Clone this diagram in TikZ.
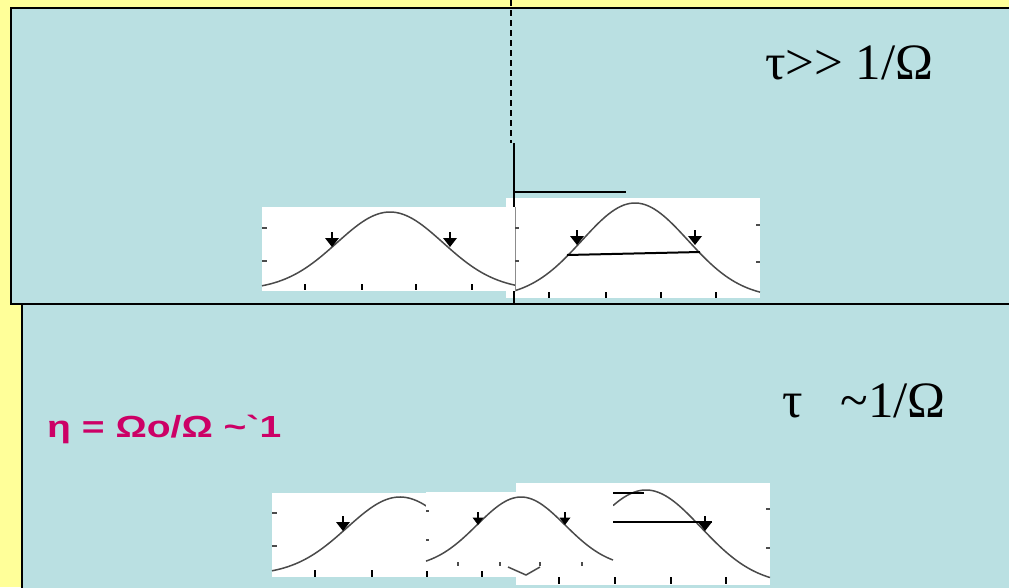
\documentclass[tikz,border=0pt]{standalone}
\usepackage{fontspec}
\usepackage{graphicx}
\newfontfamily\serifx{Liberation Serif}
\newfontfamily\magfont{Liberation Sans}
\definecolor{bgyellow}{HTML}{FFFF99}
\definecolor{panel}{HTML}{BAE0E2}
\definecolor{magtext}{HTML}{CC0066}
\definecolor{curvegray}{HTML}{4A4A4A}
\tikzset{
  panelfill/.style={fill=panel, draw=none},
  border/.style={draw=black, line width=2.5pt},
  plotbg/.style={fill=white, draw=none},
  curve/.style={draw=curvegray, line width=1.5pt},
  tickmark/.style={draw=black, line width=2pt},
  thintick/.style={draw=black!70, line width=1.2pt},
  markline/.style={draw=black, line width=2pt},
  dmark/.pic={
    \fill[black] (-7,-9) -- (7,-9) -- (0,0) -- cycle;
    \draw[black, line width=2.8pt] (0,-8) -- (0,-15);
  },
  dmarksmall/.pic={
    \fill[black] (-5.5,-7.5) -- (5.5,-7.5) -- (0,0) -- cycle;
    \draw[black, line width=2.3pt] (0,-6.5) -- (0,-13);
  }
}
\begin{document}
\begin{tikzpicture}[x=1pt, y=-1pt]
\useasboundingbox (0,0) rectangle (1009,587);
\fill[bgyellow] (0,0) rectangle (1009,587);
% panels
\fill[panel] (22,304) rectangle (1030,600);
\draw[border] (22,600) -- (22,304);
\fill[panel] (11,8) rectangle (1030,304);
\draw[border] (1030,8) -- (11,8) -- (11,304) -- (1030,304);
% dashed / solid vertical line
\coordinate (dtop) at (511,0);
\coordinate (dbot) at (511,143);
\draw[line width=2pt, dash pattern=on 6pt off 4pt] (dtop) -- (dbot);
% image 2 (top right)
\fill[plotbg] (506,198) rectangle (760,298);
\draw[curve] plot[domain=515:760, samples=80] (\x, {298-95*exp(-0.5*((\x-635)/53)*((\x-635)/53))});
\foreach \t in {549,606,661,716} \draw[tickmark] (\t,292) -- (\t,298);
\draw[thintick] (756,225) -- (760,225);
\draw[thintick] (756,262) -- (760,262);
\coordinate (h2a) at (567,255);
\coordinate (h2b) at (700,252);
\draw[markline] (h2a) -- (h2b);
\pic at (577,245) {dmark};
\pic at (695,245) {dmark};
% solid vertical and horizontal line
\coordinate (vtop) at (514,143);
\coordinate (vbot) at (514,303);
\coordinate (hend) at (626,192);
\coordinate (hstart) at (514,192);
\draw[line width=2.5pt] (vtop) -- (vbot);
\draw[line width=2pt] (hstart) -- (hend);
% image 1 (top left)
\fill[plotbg] (262,207) rectangle (515,291);
\draw[curve] plot[domain=262:515, samples=80] (\x, {290-78*exp(-0.5*((\x-390)/53)*((\x-390)/53))});
\draw[black!45, line width=0.8pt] (515.5,207) -- (515.5,291);
\foreach \t in {305,362,416,472} \draw[tickmark] (\t,284) -- (\t,290);
\draw[thintick] (262,228) -- (267,228);
\draw[thintick] (262,261) -- (267,261);
\draw[thintick] (515,228) -- (519,228);
\draw[thintick] (515,261) -- (519,261);
\pic at (332,247) {dmark};
\pic at (450,247) {dmark};
% bottom image A
\fill[plotbg] (272,493) rectangle (427,577);
\draw[curve] plot[domain=272:427, samples=60] (\x, {575-78*exp(-0.5*((\x-400)/53)*((\x-400)/53))});
\draw[thintick] (272,513) -- (277,513);
\draw[thintick] (272,546) -- (277,546);
\foreach \t in {315,372} \draw[tickmark] (\t,570) -- (\t,577);
\pic at (343,531) {dmark};
% bottom image C
\fill[plotbg] (516,483) rectangle (770,585);
\draw[curve] plot[domain=613:770, samples=60] (\x, {585-95*exp(-0.5*((\x-646)/55)*((\x-646)/55))});
\foreach \t in {559,615,671,726} \draw[tickmark] (\t,577) -- (\t,584);
\draw[thintick] (766,509) -- (770,509);
\draw[thintick] (766,548) -- (770,548);
\pic at (705,531) {dmark};
% bottom image B
\fill[plotbg] (426,492) rectangle (613,577);
\draw[curve] plot[domain=426:613, samples=70] (\x, {568-71*exp(-0.5*((\x-521)/44)*((\x-521)/44))});
\draw[thintick] (426,511) -- (429,511);
\draw[thintick] (426,540) -- (429,540);
\foreach \t in {458,500,540,582} \draw[thintick] (\t,562) -- (\t,566);
\foreach \t in {427,482} \draw[tickmark] (\t,571) -- (\t,577);
\pic at (478,525) {dmarksmall};
\pic at (565,525) {dmarksmall};
% marks over C
\coordinate (c1a) at (613,493);
\coordinate (c1b) at (644,493);
\coordinate (c2a) at (613,522);
\coordinate (c2b) at (712,522);
\draw[markline] (c1a) -- (c1b);
\draw[markline] (c2a) -- (c2b);
\coordinate (va) at (508,567);
\coordinate (vb) at (526,575);
\coordinate (vc) at (540,567);
\draw[curvegray, line width=1.5pt] (va) -- (vb) -- (vc);
% texts
\node[anchor=base west, inner sep=0, font=\serifx\fontsize{51}{60}\selectfont] (t1) at (765,79) {τ>> 1/Ω};
\node[anchor=base west, inner sep=0, font=\serifx\fontsize{51}{60}\selectfont] (t2) at (782,417) {τ\hspace{38pt}\textasciitilde1/Ω};
\node[anchor=base west, inner sep=0, text=magtext, font=\magfont\bfseries\fontsize{30.5}{36}\selectfont] (eta) at (47,437) {\scalebox{1.28}[1]{η = Ωo/Ω \textasciitilde`1}};
\end{tikzpicture}
\end{document}
